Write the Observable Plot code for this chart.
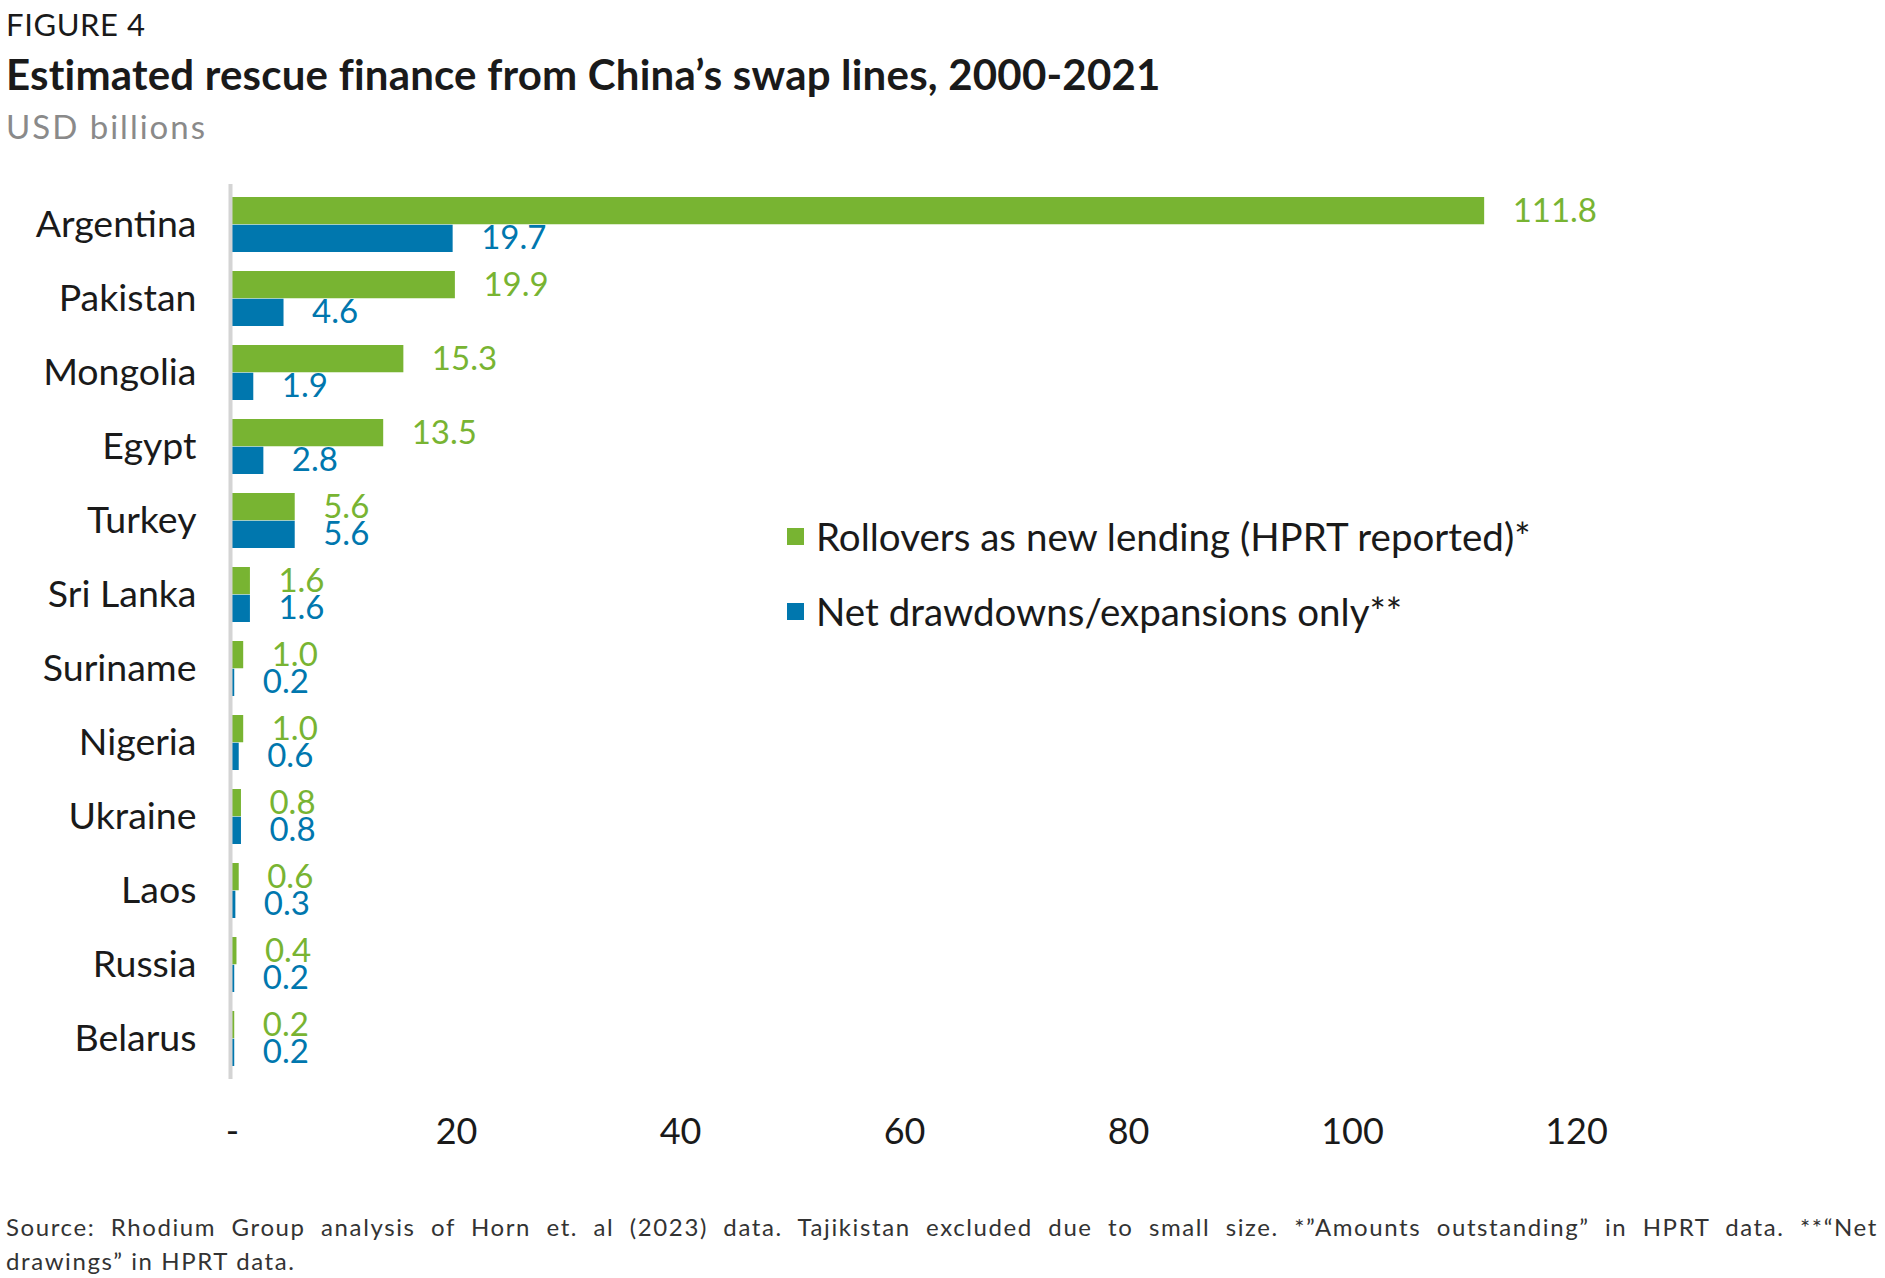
<!DOCTYPE html>
<html>
<head>
<meta charset="utf-8">
<script src="https://cdn.jsdelivr.net/npm/d3@7"></script>
<script src="https://cdn.jsdelivr.net/npm/@observablehq/plot@0.6"></script>
<style>
  html, body { margin: 0; padding: 0; background: #fff; }
  body { width: 1885px; height: 1278px; position: relative; overflow: hidden; font-family: Lato, "Open Sans", sans-serif; color: #1a1a1a; }
  .abs { position: absolute; white-space: nowrap; }
  #fig { left: 6px; top: 5px; font-size: 31px; letter-spacing: 0.6px; }
  #title { left: 6px; top: 49px; font-size: 42px; font-weight: 700; letter-spacing: 0.2px; }
  #sub { left: 6px; top: 106px; font-size: 33px; color: #8a8a8a; letter-spacing: 2px; }
  #chart { position: absolute; left: 0; top: 0; }
  .leg { position: absolute; left: 787px; font-size: 38.5px; display: flex; align-items: center; white-space: nowrap; }
  .sw { width: 17px; height: 17px; margin-right: 12px; }
  #foot { position: absolute; left: 6px; top: 1210px; width: 1872px; font-size: 24px; letter-spacing: 1.6px; color: #333; line-height: 34px; }
  #foot .l1 { text-align: justify; text-align-last: justify; }
</style>
</head>
<body>
<div id="chart"></div>
<div class="abs" id="fig">FIGURE 4</div>
<div class="abs" id="title">Estimated rescue finance from China’s swap lines, 2000-2021</div>
<div class="abs" id="sub">USD billions</div>
<div class="leg" id="leg1" style="top:513px"><div class="sw" style="background:#78b432"></div><span>Rollovers as new lending (HPRT reported)*</span></div>
<div class="leg" id="leg2" style="top:588px"><div class="sw" style="background:#0077ae"></div><span>Net drawdowns/expansions only**</span></div>
<div id="foot">
  <div class="l1">Source: Rhodium Group analysis of Horn et. al (2023) data. Tajikistan excluded due to small size. *”Amounts outstanding” in HPRT data. **“Net</div>
  <div>drawings” in HPRT data.</div>
</div>
<script>
const countries = ["Argentina","Pakistan","Mongolia","Egypt","Turkey","Sri Lanka","Suriname","Nigeria","Ukraine","Laos","Russia","Belarus"];
const rollovers = [111.8, 19.9, 15.3, 13.5, 5.6, 1.6, 1.0, 1.0, 0.8, 0.6, 0.4, 0.2];
const netDrawdowns = [19.7, 4.6, 1.9, 2.8, 5.6, 1.6, 0.2, 0.6, 0.8, 0.3, 0.2, 0.2];
const xTicks = [0, 20, 40, 60, 80, 100, 120];

const green = "#78b432";
const blue = "#0077ae";

const rows = countries.map((c, i) => ({country: c, roll: rollovers[i], net: netDrawdowns[i]}));

const W = 1885, H = 1200, mT = 184, mB = 121, mL = 232, mR = 309;
const padIn = 0.256, padOut = 0.128;
const step = (H - mT - mB) / (countries.length - padIn + 2 * padOut);
const bw = step * (1 - padIn);
const half = bw / 2;
const fmt = d3.format(".1f");

const chart = Plot.plot({
  width: W, height: H,
  marginTop: mT, marginBottom: mB, marginLeft: mL, marginRight: mR,
  style: {fontFamily: "Lato, 'Open Sans', sans-serif", color: "#1a1a1a", background: "transparent", overflow: "visible"},
  x: {domain: [0, 120]},
  y: {domain: countries, paddingInner: padIn, paddingOuter: padOut},
  marks: [
    Plot.axisX({ticks: xTicks, tickSize: 0, tickPadding: 39, tickFormat: d => d === 0 ? "-" : String(d), label: null, fontSize: 36}),
    Plot.axisY({tickSize: 0, tickPadding: 36, label: null, fontSize: 37.5, textStroke: "none"}),
    Plot.barX(rows, {x: "roll", y: "country", fill: green, insetBottom: half}),
    Plot.barX(rows, {x: "net", y: "country", fill: blue, insetTop: half}),
    Plot.ruleX([0], {stroke: "#d4d4d4", strokeWidth: 4, dx: -2}),
    Plot.text(rows, {x: "roll", y: "country", text: d => fmt(d.roll), dx: 28, dy: -half / 2, textAnchor: "start", fill: green, fontSize: 33}),
    Plot.text(rows, {x: "net", y: "country", text: d => fmt(d.net), dx: 28, dy: half / 2, textAnchor: "start", fill: blue, fontSize: 33})
  ]
});
document.getElementById("chart").appendChild(chart);
</script>
</body>
</html>
